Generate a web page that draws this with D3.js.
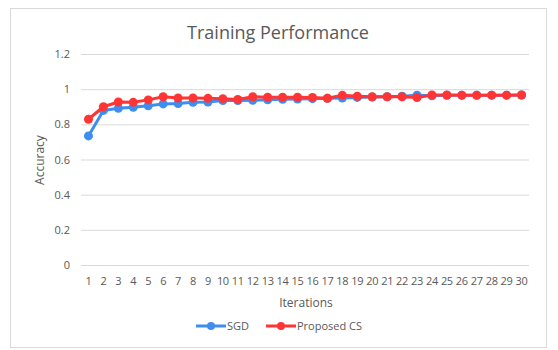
<!DOCTYPE html>
<html>
<head>
<meta charset="utf-8">
<script src="https://cdn.jsdelivr.net/npm/d3@7"></script>
<style>
  body { margin: 0; background: #fff; }
  text { font-family: "Open Sans", "Noto Sans", sans-serif; fill: #595959; }
</style>
</head>
<body>
<div id="chart"></div>
<script>
// iterations 1..30
var iterations = d3.range(1, 31);
var sgd = [0.734, 0.879, 0.891, 0.897, 0.906, 0.916, 0.918, 0.925, 0.927, 0.935,
           0.935, 0.937, 0.940, 0.942, 0.944, 0.946, 0.948, 0.950, 0.953, 0.955,
           0.957, 0.960, 0.966, 0.962, 0.965, 0.965, 0.965, 0.966, 0.966, 0.967];
var proposedCS = [0.829, 0.900, 0.927, 0.925, 0.939, 0.957, 0.950, 0.950, 0.948, 0.946,
                  0.941, 0.957, 0.954, 0.954, 0.954, 0.953, 0.948, 0.965, 0.960, 0.957,
                  0.957, 0.957, 0.952, 0.967, 0.967, 0.966, 0.966, 0.966, 0.966, 0.967];
var yTicks = [0, 0.2, 0.4, 0.6, 0.8, 1, 1.2];
var seriesNames = ["SGD", "Proposed CS"];
var colors = ["#3d8ef0", "#ff3535"];

var W = 558, H = 350;
var margin = {top: 54, right: 29, bottom: 85, left: 81};
var width = W - margin.left - margin.right,
    height = H - margin.top - margin.bottom;

var svg = d3.select("#chart").append("svg")
    .attr("width", W)
    .attr("height", H);

// chart frame
svg.append("rect")
    .attr("x", 10.5).attr("y", 8.5)
    .attr("width", 536).attr("height", 339)
    .attr("fill", "#fff")
    .attr("stroke", "#d9d9d9");

svg.append("text")
    .attr("x", 278).attr("y", 39)
    .attr("text-anchor", "middle")
    .style("font-size", "18px")
    .text("Training Performance");

var g = svg.append("g")
    .attr("transform", "translate(" + margin.left + "," + margin.top + ")");

var x = d3.scaleBand().domain(iterations).range([0, width]);
var y = d3.scaleLinear().domain([0, 1.2]).range([height, 0]);

// gridlines + y labels
var yAxis = g.append("g")
    .call(d3.axisLeft(y).tickValues(yTicks).tickSize(-width).tickPadding(11)
        .tickFormat(function(d) { return d3.format("~g")(d); }));
yAxis.select(".domain").remove();
yAxis.selectAll("line").attr("stroke", "#d9d9d9");
yAxis.selectAll("text").style("font-size", "11px").attr("fill", "#595959");

var xAxis = g.append("g")
    .attr("transform", "translate(0," + height + ")")
    .call(d3.axisBottom(x).tickSize(0).tickPadding(12));
xAxis.select(".domain").remove();
xAxis.selectAll("text").style("font-size", "11px").attr("fill", "#595959")
    .style("letter-spacing", "-0.3px");

// axis titles
svg.append("text")
    .attr("x", 306).attr("y", 307)
    .attr("text-anchor", "middle")
    .style("font-size", "12px")
    .text("Iterations");

svg.append("text")
    .attr("transform", "translate(44,160) rotate(-90)")
    .attr("text-anchor", "middle")
    .style("font-size", "12px")
    .text("Accuracy");

// series
var data = [sgd, proposedCS];
var line = d3.line()
    .x(function(d, i) { return x(iterations[i]) + x.bandwidth() / 2; })
    .y(function(d) { return y(d); });

data.forEach(function(vals, k) {
    g.append("path")
        .datum(vals)
        .attr("fill", "none")
        .attr("stroke", colors[k])
        .attr("stroke-width", 3)
        .attr("stroke-linejoin", "round")
        .attr("d", line);
    g.selectAll(".pt" + k)
        .data(vals)
        .enter().append("circle")
        .attr("class", "pt" + k)
        .attr("cx", function(d, i) { return x(iterations[i]) + x.bandwidth() / 2; })
        .attr("cy", function(d) { return y(d); })
        .attr("r", 4.5)
        .attr("fill", colors[k]);
});

// legend
var legendX = [196, 266];
var legend = svg.append("g");
seriesNames.forEach(function(name, k) {
    var lx = legendX[k];
    legend.append("line")
        .attr("x1", lx).attr("x2", lx + 30)
        .attr("y1", 326).attr("y2", 326)
        .attr("stroke", colors[k]).attr("stroke-width", 3);
    legend.append("circle")
        .attr("cx", lx + 15).attr("cy", 326).attr("r", 4)
        .attr("fill", colors[k]);
    legend.append("text")
        .attr("x", lx + 31).attr("y", 330)
        .style("font-size", "11px")
        .text(name);
});
</script>
</body>
</html>
